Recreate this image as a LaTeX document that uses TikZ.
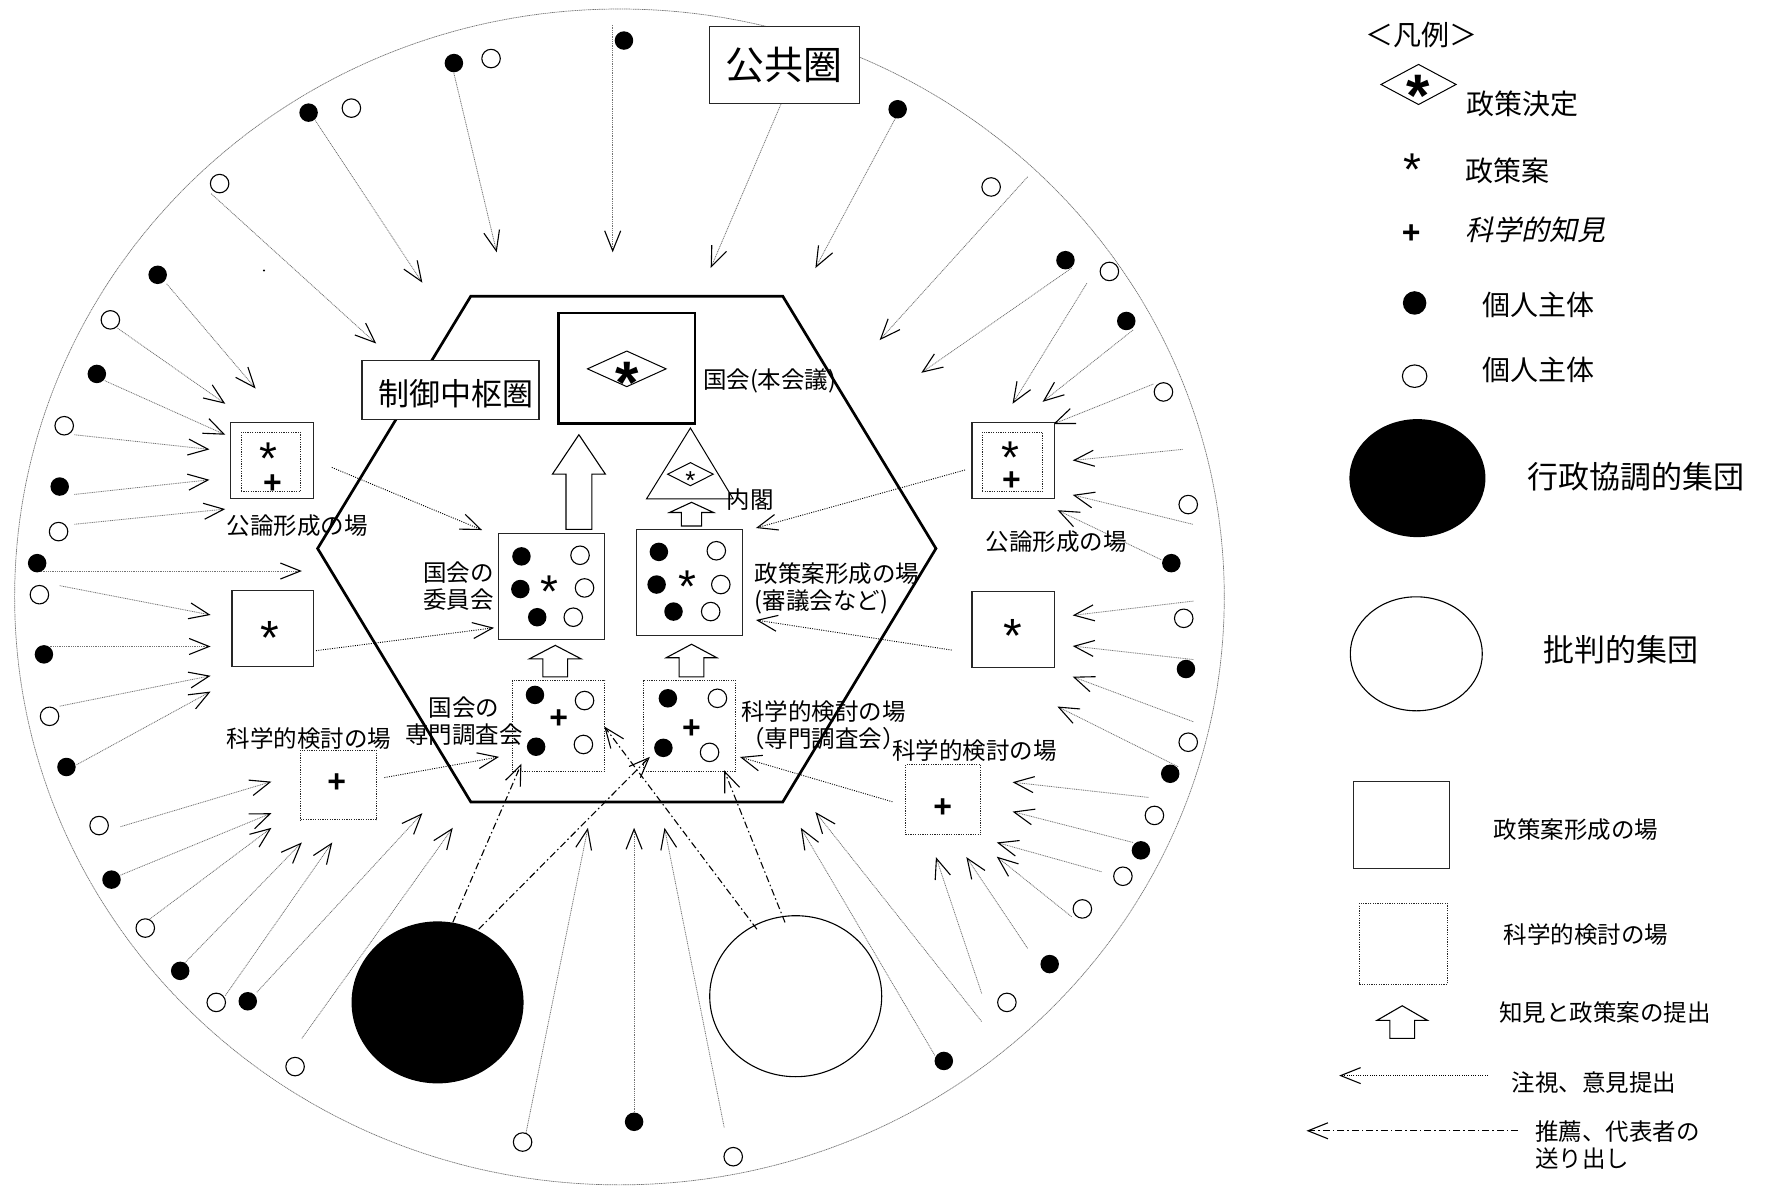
\documentclass[tikz,border=0pt]{standalone}
\usepackage{fontspec}
\setmainfont{Noto Sans CJK JP}
\newfontfamily\jpit{Noto Sans CJK JP}[FakeSlant=0.22]
\newfontfamily\lat{Liberation Sans}
\usetikzlibrary{arrows.meta,shapes.geometric}
\tikzset{
 lbl/.style={inner sep=0pt, font=\fontsize{23.5}{27}\selectfont},
 lblL/.style={inner sep=0pt, font=\fontsize{28}{32}\selectfont},
 lblXL/.style={inner sep=0pt, font=\fontsize{31}{36}\selectfont},
 outerring/.style={draw=black!55, line width=0.7pt, dash pattern=on 1.2pt off 0.6pt},
 hexline/.style={draw=black, line width=2.7pt, line join=miter},
 box/.style={draw=black!85, line width=1.1pt, fill=white, inner sep=0pt},
 thickbox/.style={draw=black, line width=2.5pt, fill=white, inner sep=0pt},
 dbox/.style={draw=black!85, line width=1pt, dash pattern=on 1.2pt off 1.2pt, inner sep=0pt},
 fdot/.style={circle, fill=black, inner sep=0pt, minimum size=18.5pt},
 odot/.style={circle, draw=black, line width=1.1pt, fill=white, inner sep=0pt, minimum size=18.5pt},
 obs/.style={draw=black!55, line width=0.8pt, dash pattern=on 1pt off 0.8pt,
   -{Straight Barb[length=20pt,width=16pt,line width=1.1pt,color=black]}},
 obsin/.style={draw=black, line width=0.9pt, dash pattern=on 1pt off 1.3pt,
   -{Straight Barb[length=20pt,width=16pt,line width=1.1pt]}},
 rec/.style={draw=black, line width=1.1pt, dash pattern=on 7pt off 3pt on 1.5pt off 3pt,
   -{Straight Barb[length=20pt,width=16pt,line width=1.1pt]}},
 blk/.style={draw=black, line width=1.1pt, fill=white, line join=miter},
 dia/.style={diamond, draw=black, line width=1pt, fill=white, inner sep=0pt},
}
\newcommand\Rect[6]{\node[#6, minimum width={(#4-#2)*1.12628pt}, minimum height={(#5-#3)*1.12628pt}] (#1) at ({(#2+#4)/2},{(#3+#5)/2}) {};}
\newcommand\PutAst[5][]{\node[inner sep=0pt, font=\lat#1\fontsize{#5}{#5}\selectfont] (#2) at ({#3},{#4}) {\raisebox{-0.425em}[0.291em][0pt]{*}};}
\newcommand\PutPlus[4]{\node[inner sep=0pt, font=\lat\bfseries\fontsize{#4}{#4}\selectfont] (#1) at ({#2},{#3}) {\raisebox{-0.095em}[0.48em][0pt]{+}};}
\newcommand\BlockArrow[6]{\draw[blk] ({#1},{#2}) -- ({#1+#5},{#3}) -- ({#1+#6},{#3}) -- ({#1+#6},{#4}) -- ({#1-#6},{#4}) -- ({#1-#6},{#3}) -- ({#1-#5},{#3}) -- cycle;}
\begin{document}
\begin{tikzpicture}[x=1.12628pt, y=-1.12628pt]
\useasboundingbox (0,0) rectangle (1568,1057);
% public sphere ring
\draw[outerring] (550,530) ellipse [x radius=537, y radius=522];
% observation arrows from individuals
\foreach \sx/\sy/\tx/\ty [count=\i] in {
 544/22/544/224, 403/65/441/224, 280/107/375/251, 187.5/172/334/305,
 148/252/227/345, 104.5/291.5/200/358.5, 93/338/200/386, 66/386/186/399,
 66/439/186/426, 66/465.5/200/452, 33/507/268/507, 53/520/187/546,
 44/574/187/574, 53/627/187/600, 68/679/187/614, 107/734/241/694,
 107/777/241/722, 133/816/241/735, 164/855/268/748, 200/884/295/748,
 228/881/375/722, 268/922/402/735, 467/1006/522/735, 563/989/563/735,
 643/1001/590/735, 830/937/711/735, 871.6/907/724/721, 871.6/882/831/761,
 912.4/842/858/761, 951.5/814/885/760.6, 978/774/885/748, 1006/748/899/720.6,
 1019.6/708/899/694.5, 1046/680.7/938.8/627.3, 1059.5/640.8/952.4/600.8,
 1059.5/585.6/952.4/573.6, 1059.5/533.7/952.4/546.4, 1031/497/939/453,
 1059/465.5/952.4/439.4, 1050/399/952.4/408.8, 1024/341/935.2/376.5,
 1006/293/925.7/356.8, 965/251.5/899/358.5, 951.5/238/818/331,
 912.4/157/781/302, 795/105/724/238}
 {\coordinate (os\i) at (\sx,\sy); \coordinate (ot\i) at (\tx,\ty); \draw[obs] (os\i) -- (ot\i);}
% individuals
\foreach \x/\y [count=\i] in {554/36, 403/56, 274/100, 140/244, 86/332, 53/432, 33/500,
 39/581, 59/681, 99/781, 160/862, 220/889, 563/996, 838/942, 932/856, 1013/755,
 1039/687, 1053/594, 1040/500, 1000/285, 946/231, 797/97}
 {\node[fdot] (fd\i) at (\x,\y) {};}
\foreach \x/\y [count=\i] in {436/52, 312/96, 195/163, 98/284, 57/378, 52/472, 35/528,
 44/636, 88/733, 129/824, 192/890, 262/947, 464/1014, 651/1027, 894/890, 961/807,
 997/778, 1025/724, 1055/659, 1051/549, 1055/448, 1033/348, 985/241, 880/166}
 {\node[odot] (od\i) at (\x,\y) {};}
\fill (234.4,240.2) circle [radius=1];
% public sphere label box
\node[box, minimum width=150pt, minimum height=77pt, font=\fontsize{39}{44}\selectfont] (koukyou) at (696.5,57.5) {公共圏};
\coordinate (koukyouarrow) at (631,238);
\draw[obs] (koukyou.south) ++(-3,0) coordinate (ks) -- (koukyouarrow);
% hexagon (control centre)
\draw[hexline] (418,263) -- (695,263) -- (831,487) -- (695,712) -- (418,712) -- (282,487) -- cycle;
\node[box, minimum width=177pt, minimum height=59pt] (seigyo) at (400,346) {};
\node[lblXL] (seigyotxt) at (405,350) {制御中枢圏};
% parliament plenary
\Rect{kokkai}{496}{278}{617}{376}{thickbox}
\node[dia, minimum width=79pt, minimum height=36pt] (kdia) at (556.5,327.5) {};
\PutAst[\bfseries]{kast}{556.5}{328}{60}
\node[lbl, anchor=west] (kokkailbl) at (624,338) {国会(本会議)};
% cabinet triangle
\draw[draw=black, line width=1pt, fill=white] (613,380) coordinate (tri) -- (651,443) -- (574,443) -- cycle;
\node[dia, minimum width=46pt, minimum height=23.5pt] (tdia) at (613,421) {};
\PutAst{tast}{613}{421.5}{26}
\node[lbl, anchor=west] (naikaku) at (645,444) {内閣};
% block arrows
\BlockArrow{514}{386}{421}{470}{23.5}{11.5}
\BlockArrow{614}{446}{455}{467}{19.5}{9}
\BlockArrow{493}{573}{585}{601}{23}{11}
\BlockArrow{614}{572}{584}{601}{22.5}{11}
% committee box
\Rect{iinkai}{443}{474}{537}{568}{box}
\node[fdot] (i1) at (463,494) {};
\node[fdot] (i2) at (462,523) {};
\node[fdot] (i3) at (477,548) {};
\node[odot] (i4) at (515,493) {};
\node[odot] (i5) at (519,522) {};
\node[odot] (i6) at (509,548) {};
\PutAst{iast}{488}{516}{46}
\node[lbl, align=center] (iinkailbl) at (407,520) {国会の\\委員会};
% council box
\Rect{shingi}{565}{470}{659}{564}{box}
\node[fdot] (s1) at (585,490) {};
\node[fdot] (s2) at (583,519) {};
\node[fdot] (s3) at (598,543) {};
\node[odot] (s4) at (636,489) {};
\node[odot] (s5) at (640,519) {};
\node[odot] (s6) at (631,543) {};
\PutAst{sast}{610}{512}{46}
\node[lbl, anchor=west, align=left] (shingilbl) at (670,522) {政策案形成の場\\(審議会など)};
% inner scientific boxes
\Rect{chosaL}{455}{604}{537}{685}{dbox}
\node[fdot] (c1) at (475,617) {};
\node[fdot] (c2) at (476,663) {};
\node[odot] (c3) at (519,622) {};
\node[odot] (c4) at (518,661) {};
\PutPlus{cplus}{496}{637}{32}
\node[lbl, align=center] (chosaLlbl) at (412,640) {国会の\\専門調査会};
\Rect{chosaR}{571}{604}{653}{685}{dbox}
\node[fdot] (r1) at (593,620) {};
\node[fdot] (r2) at (589,664) {};
\node[odot] (r3) at (637,620) {};
\node[odot] (r4) at (630,668) {};
\PutPlus{rplus}{614}{646}{32}
\node[lbl, anchor=west, align=left] (chosaRlbl) at (658,644) {科学的検討の場\\（専門調査会）};
% outer public-opinion boxes
\Rect{kouronL}{205}{375}{278}{443}{box}
\Rect{kouronLi}{214}{384}{267}{436}{dbox}
\PutAst{klast}{238}{398}{46}
\PutPlus{klplus}{242}{429}{32}
\node[lbl, anchor=west] (kouronLlbl) at (201,467) {公論形成の場};
\Rect{kouronR}{863}{375}{936}{443}{box}
\Rect{kouronRi}{872}{384}{926}{436}{dbox}
\PutAst{krast}{897}{397}{46}
\PutPlus{krplus}{898}{426}{32}
\node[lbl, anchor=west] (kouronRlbl) at (875,481) {公論形成の場};
% outer policy boxes
\Rect{polL}{206}{524}{278}{592}{box}
\PutAst{plast}{240}{557}{48}
\Rect{polR}{863}{525}{936}{593}{box}
\PutAst{prast}{899}{555}{48}
% outer scientific boxes
\Rect{sciL}{267}{666}{334}{728}{dbox}
\PutPlus{slplus}{299}{694}{32}
\node[lbl, anchor=west] (sciLlbl) at (201,656) {科学的検討の場};
\Rect{sciR}{804}{679}{871}{741}{dbox}
\PutPlus{srplus}{837}{716}{32}
\node[lbl, anchor=west] (sciRlbl) at (792,666) {科学的検討の場};
% dotted arrows from outer fora into the centre
\coordinate (a1s) at (294.6,415); \coordinate (a1t) at (428,470.6);
\coordinate (a2s) at (280.6,577.7); \coordinate (a2t) at (438.7,557.4);
\coordinate (a3s) at (341.3,690.4); \coordinate (a3t) at (443.1,672);
\coordinate (a4s) at (856.8,417.3); \coordinate (a4t) at (671.2,468.8);
\coordinate (a5s) at (845,577.2); \coordinate (a5t) at (671.2,550.5);
\coordinate (a6s) at (792.4,711.9); \coordinate (a6t) at (657,672.1);
\foreach \k in {1,...,6} {\draw[obsin] (a\k s) -- (a\k t);}
% groups
\node[ellipse, fill=black, inner sep=0pt, minimum width=172pt, minimum height=162pt] (gyosei) at (388.5,890) {};
\node[ellipse, draw=black, line width=1.1pt, fill=white, inner sep=0pt, minimum width=172pt, minimum height=161pt] (hihan) at (706.5,884.5) {};
% recommendation arrows
\coordinate (b1t) at (463,678); \coordinate (b2t) at (577,672);
\coordinate (b3t) at (536.5,645); \coordinate (b4t) at (643,684);
\draw[rec] (402,819) -- (b1t);
\draw[rec] (425,825) -- (b2t);
\draw[rec] (672,825) -- (b3t);
\draw[rec] (697,819) -- (b4t);
% ---------------- legend ----------------
\node[lblL] (hanrei) at (1262,31) {＜凡例＞};
\node[dia, minimum width=75.5pt, minimum height=40.5pt] (ldia) at (1259.5,75) {};
\PutAst[\bfseries]{ldast}{1259.5}{73}{60}
\node[lblL, anchor=west] (l1) at (1302,92) {政策決定};
\PutAst{last}{1254}{141}{46}
\node[lblL, anchor=west] (l2) at (1301,152) {政策案};
\PutPlus{lplus}{1253}{207}{32}
\node[lblL, anchor=west, font=\jpit\fontsize{28}{32}\selectfont] (l3) at (1301,204) {科学的知見};
\node[circle, fill=black, inner sep=0pt, minimum width=23.5pt, minimum height=19pt] (lfd) at (1256,269) {};
\node[lblL, anchor=west] (l4) at (1316,271) {個人主体};
\node[ellipse, draw=black, line width=1.1pt, inner sep=0pt, minimum width=24.5pt, minimum height=22.5pt] (lod) at (1256,334) {};
\node[lblL, anchor=west] (l5) at (1316,328) {個人主体};
\node[ellipse, fill=black, inner sep=0pt, minimum width=136pt, minimum height=118pt] (lgy) at (1258.5,424.5) {};
\node[lblXL, anchor=west] (l6) at (1356,423.5) {行政協調的集団};
\node[ellipse, draw=black, line width=1.1pt, inner sep=0pt, minimum width=132pt, minimum height=114pt] (lhi) at (1257.5,580.5) {};
\node[lblXL, anchor=west] (l7) at (1370,577) {批判的集団};
\Rect{lbox}{1202}{694}{1287}{771}{box}
\node[lbl, anchor=west] (l8) at (1326,737) {政策案形成の場};
\Rect{ldbox}{1207}{802}{1285}{874}{dbox}
\node[lbl, anchor=west] (l9) at (1335,830) {科学的検討の場};
\BlockArrow{1245}{893}{906}{922}{22.5}{11}
\node[lbl, anchor=west] (l10) at (1331,899) {知見と政策案の提出};
\coordinate (lo1) at (1321,955); \coordinate (lo2) at (1189,955);
\draw[obsin] (lo1) -- (lo2);
\node[lbl, anchor=west] (l11) at (1342,961) {注視、意見提出};
\coordinate (lr1) at (1348,1004); \coordinate (lr2) at (1160,1004);
\draw[rec] (lr1) -- (lr2);
\node[lbl, anchor=west, align=left] (l12) at (1363,1016.5) {推薦、代表者の\\送り出し};
\end{tikzpicture}
\end{document}
